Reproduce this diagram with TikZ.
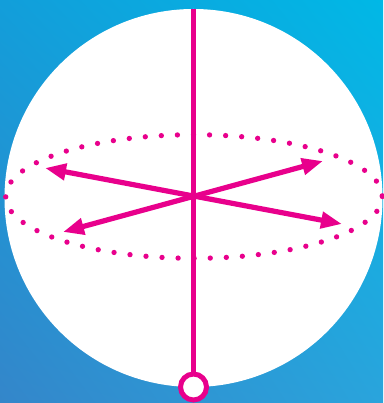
\documentclass[tikz,border=0pt]{standalone}
\usetikzlibrary{arrows.meta,shadings}
\definecolor{mag}{RGB}{232,0,140}
\definecolor{bgUL}{RGB}{18,158,218}
\definecolor{bgUR}{RGB}{0,184,230}
\definecolor{bgLL}{RGB}{52,134,202}
\definecolor{bgLR}{RGB}{42,164,220}
\tikzset{
  axisline/.style={draw=mag, line width=5.2pt},
  dirarrow/.style={draw=mag, line width=5.2pt, {Triangle[length=21pt,width=16pt]}-{Triangle[length=21pt,width=16pt]}},
  orbit/.style={draw=mag, line width=5.3pt, line cap=round, dash pattern=on 0pt off 16.08pt},
  pivot/.style={circle, draw=mag, fill=white, line width=5pt, minimum size=26pt, inner sep=0pt}
}
\begin{document}
\begin{tikzpicture}[x=1pt,y=-1pt]
\useasboundingbox (0,0) rectangle (383,403);
\shade[upper left=bgUL, upper right=bgUR, lower left=bgLL, lower right=bgLR] (0,0) rectangle (383,403);
% sphere
\fill[white] (193.5,198) circle[radius=189];
% dotted equator
\coordinate (c) at (194,196.5);
\draw[orbit] (c) ellipse[x radius=188.3, y radius=61.8];
% axis
\coordinate (top) at (193.5,9);
\node[pivot] (piv) at (193.5,387) {};
\draw[axisline] (top) -- (piv.north);
% arrows
\coordinate (a1) at (63,232);
\coordinate (b1) at (323,161);
\coordinate (a2) at (45,168);
\coordinate (b2) at (342,224);
\draw[dirarrow] (a1) -- (b1);
\draw[dirarrow] (a2) -- (b2);
\end{tikzpicture}
\end{document}
